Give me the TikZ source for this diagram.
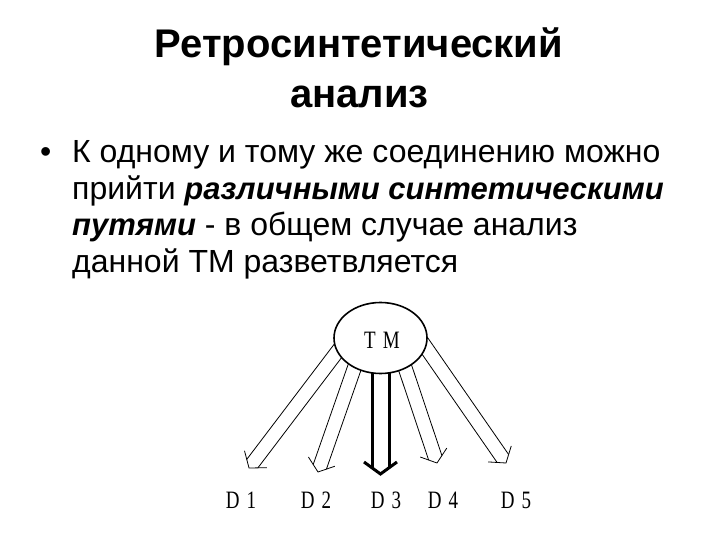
\documentclass[tikz,border=0pt]{standalone}
\usepackage{fontspec}
\setmainfont{Liberation Sans}
\newfontfamily\arialx{Liberation Sans}
\newfontfamily\timesn[FakeStretch=0.76, WordSpace=1.5]{Liberation Serif}
\usetikzlibrary{shapes.geometric, calc, backgrounds}

\newcommand\emphbi[1]{{\fontsize{31}{36}\selectfont\bfseries\itshape #1}}

\tikzset{
  titletext/.style={font=\arialx\bfseries\fontsize{40}{46}\selectfont, anchor=base, inner sep=0pt},
  bodytext/.style={font=\arialx\fontsize{32}{36}\selectfont, anchor=base west, inner sep=0pt},
  lbl/.style={font=\timesn\fontsize{25}{28}\selectfont, inner sep=0pt},
  tmnode/.style={ellipse, draw, line width=1.6pt, fill=white, minimum width=93pt, minimum height=71pt, inner sep=0pt},
}

% #1 start, #2 tip, #3 half spacing, #4 line width, #5 wing half width, #6 shaft end back from tip, #7 wing length
\newcommand\retroarrow[7]{%
  \coordinate (ra-s) at ($(#1)!-20pt!(#2)$);
  \coordinate (ra-e) at ($(#2)!#6!(#1)$);
  \coordinate (ra-w) at ($(#2)!#7!(#1)$);
  \draw[line width=#4] ($(ra-s)!#3!90:(#2)$) -- ($(ra-e)!#3!90:(#2)$);
  \draw[line width=#4] ($(ra-s)!#3!-90:(#2)$) -- ($(ra-e)!#3!-90:(#2)$);
  \draw[line width=#4] ($(ra-w)!#5!90:(#2)$) -- (#2) -- ($(ra-w)!#5!-90:(#2)$);
}

\begin{document}
\begin{tikzpicture}[x=1pt, y=-1pt]
\useasboundingbox (0,0) rectangle (720,540);

% title
\node[titletext] (title1) at (359,58) {Ретросинтетический};
\node[titletext] (title2) at (359.5,108) {анализ};

% body
\node[bodytext] (bullet) at (40,163) {•};
\node[bodytext] (l1) at (72,163) {К одному и тому же соединению можно};
\node[bodytext] (l2) at (72,199.5) {прийти \emphbi{различными синтетическими}};
\node[bodytext] (l3) at (72,236) {\emphbi{путями} - в общем случае анализ};
\node[bodytext] (l4) at (72,272.5) {данной ТМ разветвляется};

% diagram
\node[tmnode] (TM) at (380.5,338) {};
\node[lbl] (tmtext) at (382,340) {T M};

\coordinate (t1) at (249,468);
\coordinate (t2) at (318,472);
\coordinate (t3) at (380.5,474);
\coordinate (t4) at (437,463);
\coordinate (t5) at (506,463);

\begin{scope}[on background layer]
  \retroarrow{TM.198}{t1}{7pt}{0.8pt}{14pt}{5.5pt}{11pt}
  \retroarrow{TM.229}{t2}{7pt}{0.8pt}{14pt}{5.5pt}{11pt}
  \retroarrow{TM.270}{t3}{8.5pt}{3pt}{16.5pt}{6.2pt}{12pt}
  \retroarrow{TM.309}{t4}{7pt}{0.8pt}{14pt}{5.5pt}{11pt}
  \retroarrow{TM.348}{t5}{7pt}{0.8pt}{14pt}{5.5pt}{11pt}
\end{scope}

\node[lbl] (D1) at (241,500) {D 1};
\node[lbl] (D2) at (316,500) {D 2};
\node[lbl] (D3) at (386,500) {D 3};
\node[lbl] (D4) at (443,500) {D 4};
\node[lbl] (D5) at (516,500) {D 5};
\end{tikzpicture}
\end{document}
